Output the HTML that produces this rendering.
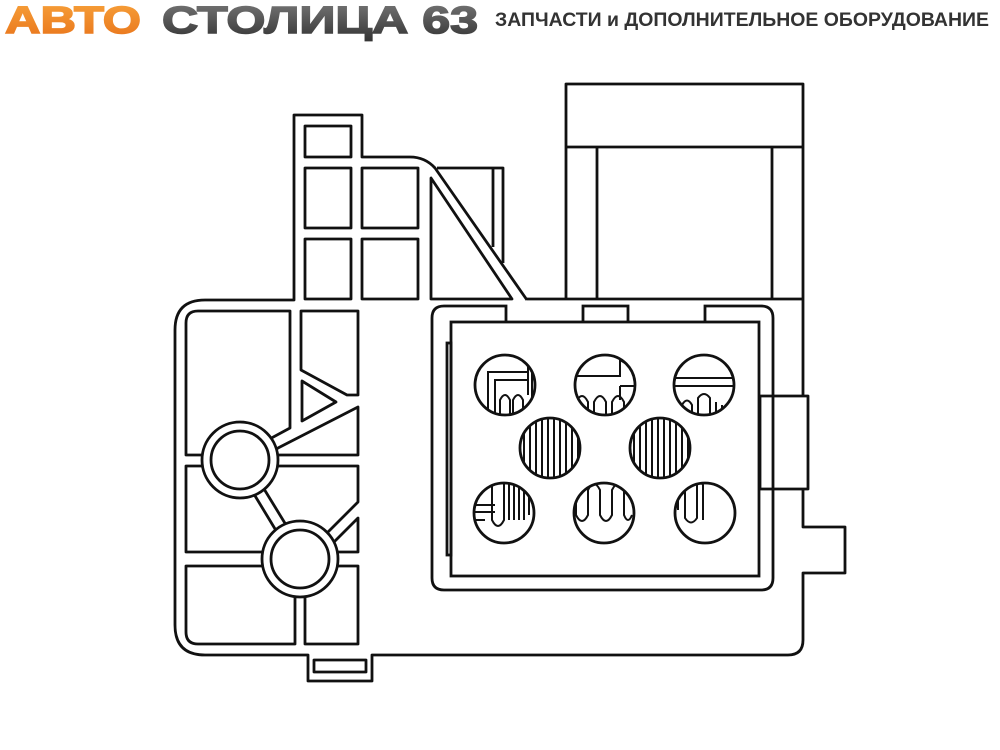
<!DOCTYPE html>
<html><head><meta charset="utf-8"><style>
html,body{margin:0;padding:0;background:#fff;}
svg{display:block;}
</style></head><body>
<svg width="1000" height="750" viewBox="0 0 1000 750" xmlns="http://www.w3.org/2000/svg">
<defs>
<linearGradient id="og" x1="0" y1="0" x2="0" y2="1"><stop offset="0" stop-color="#f7a13a"/><stop offset="1" stop-color="#e8731a"/></linearGradient>
<linearGradient id="gg" x1="0" y1="0" x2="0" y2="1"><stop offset="0" stop-color="#777"/><stop offset="1" stop-color="#333"/></linearGradient>
<clipPath id="c1"><circle cx="505" cy="385" r="30"/></clipPath>
<clipPath id="c2"><circle cx="605" cy="385" r="30"/></clipPath>
<clipPath id="c3"><circle cx="704" cy="385" r="30"/></clipPath>
<clipPath id="c4"><circle cx="550" cy="448" r="30"/></clipPath>
<clipPath id="c5"><circle cx="660" cy="448" r="30"/></clipPath>
<clipPath id="c6"><circle cx="504" cy="513" r="30"/></clipPath>
<clipPath id="c7"><circle cx="604" cy="513" r="30"/></clipPath>
<clipPath id="c8"><circle cx="705" cy="513" r="30"/></clipPath>
</defs>
<rect width="1000" height="750" fill="#fff"/>
<!-- header -->
<text x="5" y="33" font-family="Liberation Sans, sans-serif" font-weight="bold" font-size="38" fill="url(#og)" stroke="url(#og)" stroke-width="1.5" textLength="136" lengthAdjust="spacingAndGlyphs">АВТО</text>
<text x="162" y="33" font-family="Liberation Sans, sans-serif" font-weight="bold" font-size="38" fill="url(#gg)" stroke="url(#gg)" stroke-width="1.5" textLength="316" lengthAdjust="spacingAndGlyphs">СТОЛИЦА 63</text>
<text x="495" y="26" font-family="Liberation Sans, sans-serif" font-weight="bold" font-size="19" fill="#333" textLength="494" lengthAdjust="spacingAndGlyphs">ЗАПЧАСТИ и ДОПОЛНИТЕЛЬНОЕ ОБОРУДОВАНИЕ</text>

<g fill="none" stroke="#111" stroke-width="2.8" stroke-linejoin="round">
<path d="M566,299 L566,84 L803,84 L803,396"/>
<line x1="566" y1="147" x2="803" y2="147"/>
<line x1="597" y1="147" x2="597" y2="299"/>
<line x1="772" y1="147" x2="772" y2="299"/>
<line x1="527" y1="299" x2="803" y2="299"/>
<path d="M803,396 L808,396 L808,489 L760,489 L760,396 L803,396"/>
<path d="M803,489 L803,527 L845,527 L845,573 L803,573 L803,640 Q803,655 788,655 L372,655 L372,681 L308,681 L308,655 L205,655 Q175,655 175,625 L175,330 Q175,300 205,300 L294,300 L294,115 L362,115 L362,157 L410,157 Q425,157 435,168 L527,300"/>
<rect x="314" y="660" width="52" height="12"/>
<rect x="305" y="126" width="46" height="31"/>
<rect x="305" y="168" width="46" height="60"/>
<rect x="362" y="168" width="56" height="60"/>
<rect x="305" y="239" width="46" height="60"/>
<rect x="362" y="239" width="56" height="60"/>
<path d="M431,178 L431,299 L512,299 Z"/>
<path d="M437,168 L503,168 L503,263"/>
<line x1="493" y1="168" x2="493" y2="247"/>
<path d="M186,455 L186,323 Q186,311 198,311 L290,311 L290,428 L240,455 Z"/>
<path d="M301,311 L358,311 L358,395 L347,395 L301,370 Z"/>
<path d="M302,381 L302,421 L336,402 Z"/>
<path d="M278,448 L358,407 L358,455 L270,455 Z"/>
<path d="M186,466 L237,466 L289,552 L186,552 Z"/>
<path d="M250,466 L358,466 L358,502 L318,542 L294,538 Z"/>
<path d="M358,518 L324,552 L358,552 Z"/>
<path d="M186,566 L295,566 L295,644 L198,644 Q186,644 186,632 Z"/>
<path d="M305,566 L358,566 L358,644 L305,644 Z"/>
</g>
<g fill="#fff" stroke="#111" stroke-width="2.8">
<circle cx="240" cy="460" r="38"/>
<circle cx="240" cy="460" r="29"/>
<circle cx="300" cy="559" r="38"/>
<circle cx="300" cy="559" r="29"/>
</g>
<g fill="none" stroke="#111" stroke-width="2.8">
<path d="M506,322 L506,306 L444,306 Q432,306 432,318 L432,578 Q432,590 444,590 L761,590 Q773,590 773,578 L773,318 Q773,306 761,306 L705,306 L705,322"/>
<path d="M583,322 L583,306 L628,306 L628,322"/>
<rect x="451" y="322" width="308" height="254"/>
<rect x="447" y="343" width="4" height="212"/>
</g>
<g stroke="#111" stroke-width="2" fill="none">
<g clip-path="url(#c1)"><path d="M488,420 V372 H528 V355 M495,420 V380 H528 M500,420 V400 Q505,390 510,400 V420 M513,420 V400 Q518,390 523,400 V420 M528,360 V395 M532,360 V400"/></g>
<g clip-path="url(#c2)"><path d="M570,376 H620 V360 L640,372 M620,386 H640 M620,386 V400 M576,420 V402 Q582,390 588,402 V420 M594,420 V402 Q600,390 606,402 V420 M612,420 V402 Q618,390 624,402 V420"/></g>
<g clip-path="url(#c3)"><path d="M670,378 H740 M670,386 H740 M682,420 V405 Q687,396 692,405 V420 M698,420 V398 Q704,390 710,398 L710,420 M716,420 V402 M722,420 V405"/></g>
<g clip-path="url(#c4)"><path d="M524,410 V490 M530,410 V490 M536,410 V490 M542,410 V490 M548,410 V490 M554,410 V490 M560,410 V490 M566,410 V490 M572,410 V490 M578,410 V490"/></g>
<g clip-path="url(#c5)"><path d="M634,410 V490 M640,410 V490 M646,410 V490 M652,410 V490 M658,410 V490 M664,410 V490 M670,410 V490 M676,410 V490 M682,410 V490 M688,410 V490"/></g>
<g clip-path="url(#c6)"><path d="M470,505 H495 M470,512 H495 M470,520 H485 M492,480 V520 Q498,532 504,520 V480 M509,480 V520 M514,480 V520 M519,480 V520 M524,480 V520 M529,480 V515"/></g>
<g clip-path="url(#c7)"><path d="M576,480 V515 Q582,527 588,515 V490 Q594,478 600,490 V515 Q606,527 612,515 V490 Q618,478 624,490 V515 Q628,525 632,515"/></g>
<g clip-path="url(#c8)"><path d="M678,480 V510 M685,480 V518 Q691,527 697,518 V485 Q700,480 703,485 V520"/></g>
</g>
<g fill="none" stroke="#111" stroke-width="2.8">
<circle cx="505" cy="385" r="30"/><circle cx="605" cy="385" r="30"/><circle cx="704" cy="385" r="30"/>
<circle cx="550" cy="448" r="30"/><circle cx="660" cy="448" r="30"/>
<circle cx="504" cy="513" r="30"/><circle cx="604" cy="513" r="30"/><circle cx="705" cy="513" r="30"/>
</g>
</svg>
</body></html>
